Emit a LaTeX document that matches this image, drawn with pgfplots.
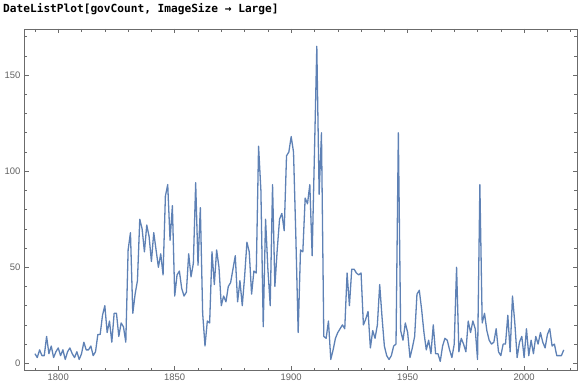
\documentclass[border=0pt]{standalone}
\usepackage{fontspec}
\setmainfont{Liberation Sans}
\newfontfamily\monofont{DejaVu Sans Mono}
\usepackage{pgfplots}
\pgfplotsset{compat=1.18}
\definecolor{mma}{rgb}{0.368417,0.506779,0.709798}
\definecolor{framegray}{gray}{0.42}
\definecolor{labelgray}{gray}{0.38}
\pgfplotstableread{
year val
1790 5
1791 3
1792 7
1793 4
1794 4
1795 14
1796 5
1797 9
1798 3
1799 6
1800 8
1801 4
1802 7
1803 2
1804 6
1805 8
1806 5
1807 3
1808 6
1809 2
1810 5
1811 11
1812 7
1813 7
1814 9
1815 4
1816 6
1817 15
1818 15
1819 25
1820 30
1821 16
1822 22
1823 11
1824 26
1825 26
1826 14
1827 21
1828 19
1829 11
1830 59
1831 68
1832 26
1833 36
1834 43
1835 75
1836 70
1837 58
1838 72
1839 66
1840 53
1841 68
1842 59
1843 50
1844 57
1845 46
1846 87
1847 93
1848 64
1849 82
1850 35
1851 46
1852 48
1853 39
1854 35
1855 37
1856 57
1857 45
1858 52
1859 94
1860 51
1861 81
1862 26
1863 9
1864 22
1865 21
1866 58
1867 41
1868 59
1869 50
1870 30
1871 35
1872 32
1873 40
1874 42
1875 49
1876 56
1877 32
1878 43
1879 30
1880 45
1881 63
1882 58
1883 36
1884 48
1885 47
1886 113
1887 90
1888 19
1889 75
1890 49
1891 30
1892 93
1893 40
1894 59
1895 75
1896 78
1897 69
1898 108
1899 110
1900 118
1901 110
1902 66
1903 16
1904 59
1905 58
1906 86
1907 83
1908 93
1909 56
1910 110
1911 165
1912 88
1913 120
1914 14
1915 13
1916 22
1917 2
1918 7
1919 13
1920 16
1921 18
1922 20
1923 18
1924 47
1925 30
1926 49
1927 49
1928 47
1929 46
1930 47
1931 20
1932 23
1933 27
1934 8
1935 17
1936 13
1937 20
1938 41
1939 24
1940 9
1941 4
1942 2
1943 4
1944 9
1945 10
1946 120
1947 17
1948 12
1949 21
1950 16
1951 3
1952 8
1953 14
1954 36
1955 38
1956 28
1957 16
1958 7
1959 12
1960 5
1961 20
1962 5
1963 5
1964 1
1965 9
1966 13
1967 12
1968 7
1969 3
1970 10
1971 50
1972 6
1973 13
1974 10
1975 6
1976 22
1977 16
1978 22
1979 18
1980 2
1981 93
1982 21
1983 26
1984 17
1985 12
1986 10
1987 11
1988 18
1989 6
1990 4
1991 10
1992 10
1993 25
1994 6
1995 35
1996 21
1997 3
1998 11
1999 14
2000 3
2001 18
2002 4
2003 12
2004 5
2005 14
2006 10
2007 16
2008 11
2009 8
2010 15
2011 18
2012 9
2013 10
2014 4
2015 4
2016 4
2017 7
}\govcount
\begin{document}
\begin{tikzpicture}
\path[use as bounding box] (0,0) rectangle (583bp,387bp);
\node[anchor=base west, inner sep=0pt, font=\monofont\bfseries\fontsize{11.2}{13}\selectfont] at (3bp,374bp) {DateListPlot[govCount, ImageSize → Large]};
\begin{axis}[
  at={(24bp,16.3bp)}, anchor=south west,
  scale only axis, width=553bp, height=341.7bp,
  xmin=1785.3, xmax=2022.7, ymin=-3.85, ymax=174,
  xtick={1800,1850,1900,1950,2000},
  minor xtick={1790,1800,...,2020},
  ytick={0,50,100,150},
  minor ytick={0,10,...,170},
  tick align=inside,
  major tick length=4.5bp, minor tick length=2.8bp,
  axis line style={framegray, line width=0.6pt},
  every tick/.style={framegray, line width=0.5pt},
  every minor tick/.style={framegray, line width=0.5pt},
  tick label style={font=\fontsize{9.5}{11}\selectfont, text=labelgray},
  /pgf/number format/assume math mode=true,
  x tick label style={/pgf/number format/1000 sep={}},
  xtick pos=both, ytick pos=both,
  xticklabel pos=lower, yticklabel pos=left,
  clip=true,
]
\addplot[mma, line width=1.3bp, no marks, line join=round] table[x=year, y=val] {\govcount};
\end{axis}
\end{tikzpicture}
\end{document}
